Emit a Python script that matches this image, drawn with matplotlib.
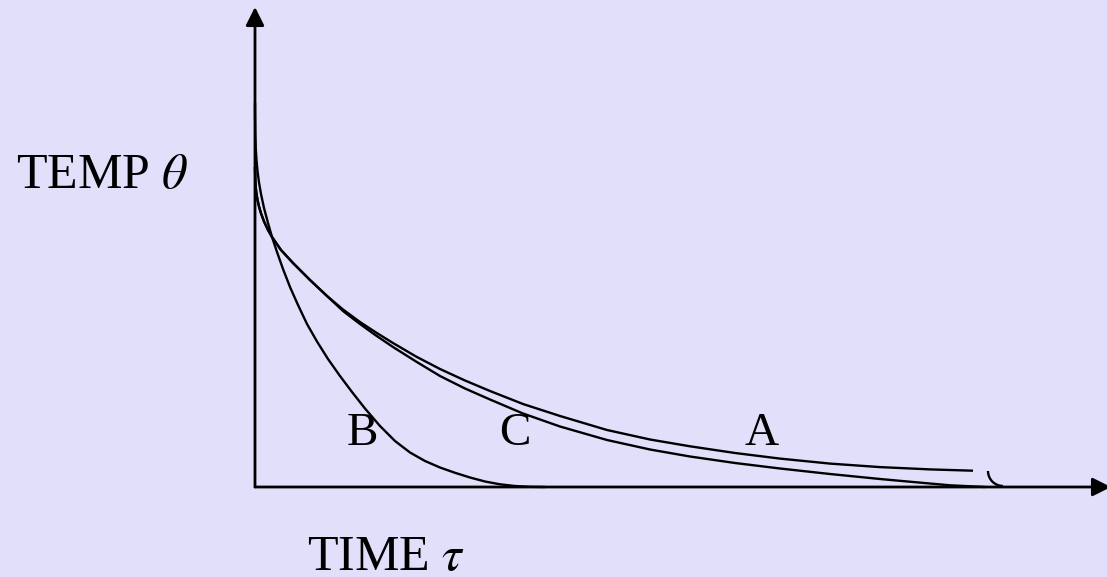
import matplotlib
matplotlib.use("Agg")
import matplotlib.pyplot as plt
from matplotlib.patches import Arc

# Cooling curves: temperature against time (arbitrary units)
curve_b_time = [0, 0.05, 0.3, 0.8, 1.5, 2.5, 4, 6, 9, 13, 17, 22, 28, 35, 43, 52, 62,
                73, 85, 97, 110, 125, 140, 155, 170, 185, 200, 215, 230, 245, 260, 275,
                290]
curve_b_temp = [384, 372, 353, 338, 327, 316, 304.5, 293, 279, 264, 250, 235, 218, 200,
                182, 163, 145.5, 128, 111, 95, 78.5, 61, 46, 34.5, 26, 19.5, 14.2, 9.5,
                5.5, 2.7, 1.0, 0.2, 0]

# A and C coincide over the first part of the cooling
shared_time = [0, 0.3, 0.8, 1.5, 2.5, 4, 6, 9, 13, 17, 26, 38, 55, 72]
shared_temp = [320, 305.7, 299.2, 293.2, 287.2, 280.5, 273.7, 265.6, 257, 250, 237,
               224, 207, 191]

curve_a_time = shared_time + [88, 105, 121, 138, 161, 185, 210, 235, 268, 305, 352, 395,
                              435, 480, 525, 575, 625, 675, 718]
curve_a_temp = shared_temp + [177.5, 165, 154.5, 144, 130.5, 118, 106.5, 96, 83, 71, 57,
                              47.5, 40.7, 34, 28.4, 23.4, 19.9, 17.6, 16.3]

curve_c_time = shared_time + [88, 105, 121, 138, 161, 185, 210, 235, 268, 305, 352, 395,
                              435, 480, 525, 575, 625, 658, 695, 730]
curve_c_temp = shared_temp + [176, 163, 151.5, 140, 125.5, 111, 98.5, 87.5, 73.5, 60.5,
                              47, 37.5, 30.5, 24, 18.5, 13, 8, 5, 1.7, 0]

curve_labels = ["B", "C", "A"]
label_time = [107, 260, 507]
label_temp = [42, 42, 42]

bg = "#E2DFFB"
fig = plt.figure(figsize=(11.07, 5.77), dpi=100, facecolor=bg)
ax = fig.add_axes([0, 0, 1, 1])
ax.set_facecolor(bg)
ax.set_xlim(-255, 852)
ax.set_ylim(-90, 487)
ax.axis("off")

lw = 1.7
# axes with arrowheads
arrow = dict(arrowstyle="-|>", color="black", lw=2.0, mutation_scale=28,
             shrinkA=0, shrinkB=0)
ax.annotate("", xy=(0, 480), xytext=(0, 0), arrowprops=arrow)
ax.annotate("", xy=(856, 0), xytext=(0, 0), arrowprops=arrow,
            annotation_clip=False)

for t, v in [(curve_b_time, curve_b_temp), (curve_a_time, curve_a_temp),
             (curve_c_time, curve_c_temp)]:
    ax.plot(t, v, color="black", lw=lw, solid_capstyle="butt",
            solid_joinstyle="round")

# small break mark near the end of the time axis
ax.add_patch(Arc((748, 16), 30, 30, theta1=180, theta2=270, color="black", lw=lw))

serif = ["Liberation Serif", "DejaVu Serif"]
plt.rcParams["mathtext.fontset"] = "stix"

for lab, t, v in zip(curve_labels, label_time, label_temp):
    ax.text(t, v, lab, fontsize=34, family=serif, ha="center", va="baseline")

ax.text(-239, 299, r"TEMP $\theta$", fontsize=36, family=serif,
        ha="left", va="baseline")
ax.text(52, -83, r"TIME $\tau$", fontsize=36, family=serif,
        ha="left", va="baseline")

fig.savefig("out.png", dpi=100, facecolor=bg)
